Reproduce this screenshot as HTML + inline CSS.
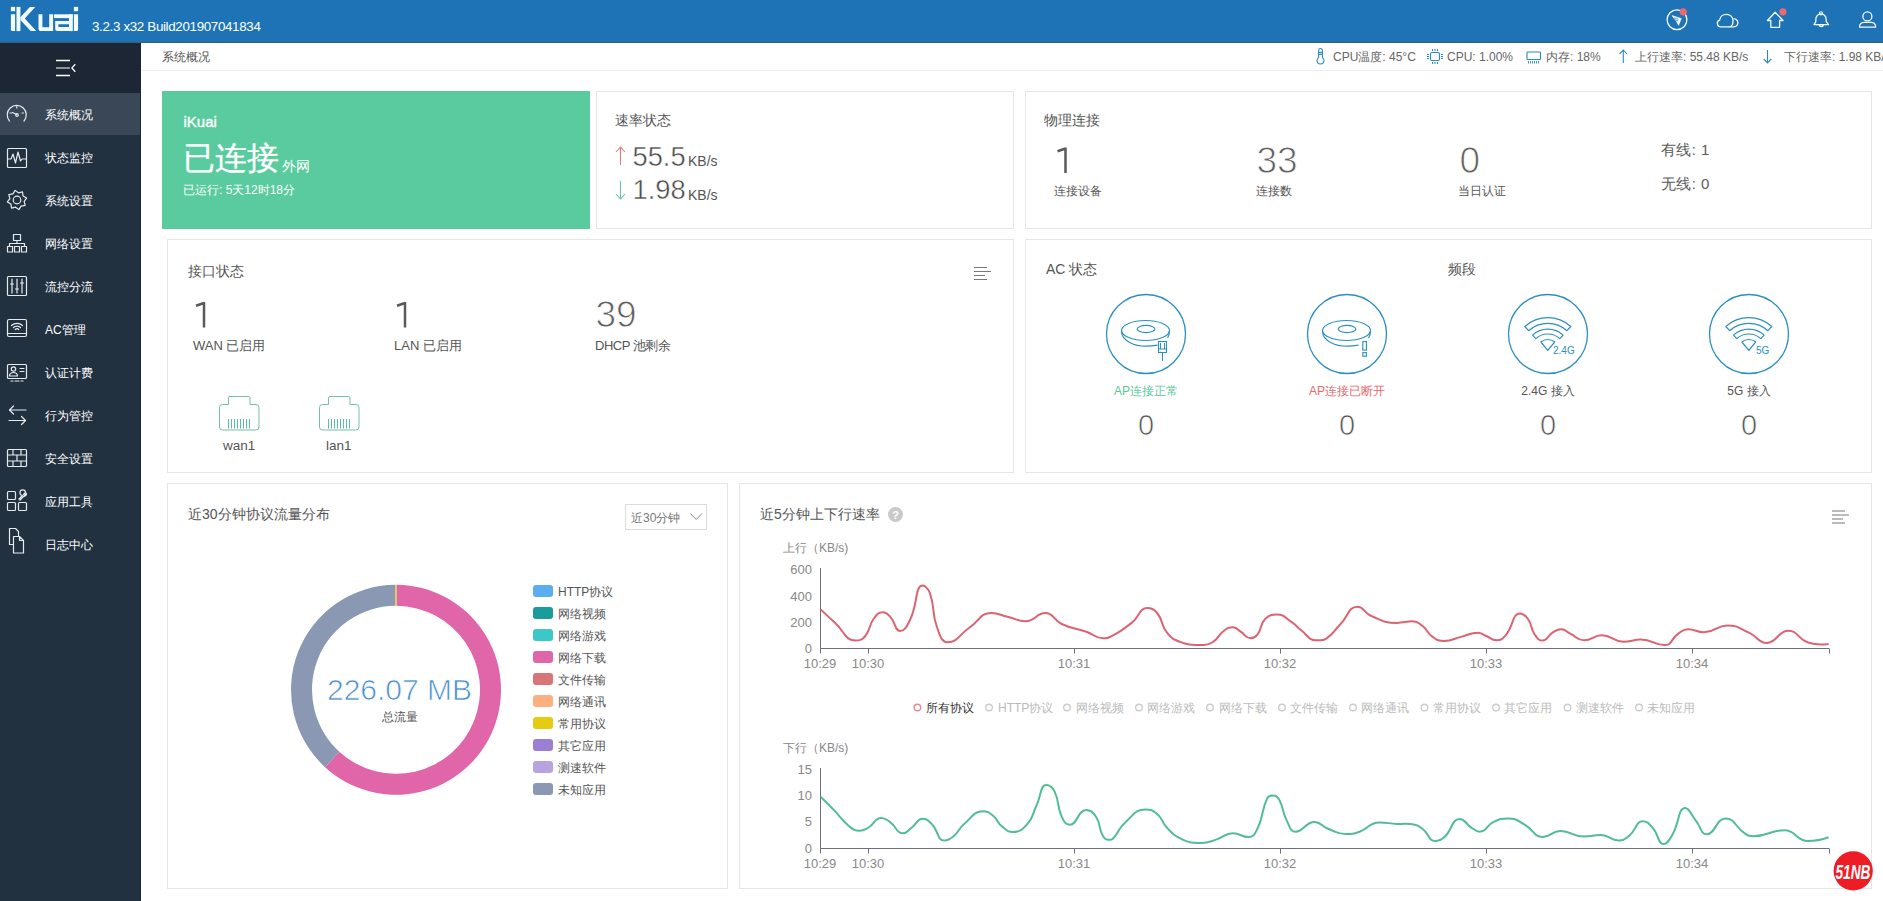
<!DOCTYPE html>
<html><head><meta charset="utf-8"><style>
*{margin:0;padding:0}
html,body{width:1883px;height:901px;overflow:hidden;background:#fff;font-family:"Liberation Sans", sans-serif;}
.t{position:absolute;line-height:1;white-space:nowrap;}
svg{position:absolute;overflow:visible}
</style></head><body>
<div style="position:absolute;left:0px;top:0px;width:1883px;height:41px;background:#1e73b7;"></div>
<div style="position:absolute;left:0px;top:41px;width:1883px;height:2px;background:linear-gradient(#2a6b9e,#2f6389);"></div>
<div style="position:absolute;left:0px;top:43px;width:141px;height:858px;background:#223140;"></div>
<div style="position:absolute;left:0px;top:43px;width:141px;height:50px;background:#1c2634;"></div>
<div style="position:absolute;left:0px;top:93px;width:141px;height:42px;background:#3a4756;"></div>
<div style="position:absolute;left:140px;top:43px;width:1px;height:858px;background:#1c2530;"></div>
<div style="position:absolute;left:141px;top:43px;width:1742px;height:27px;background:#fff;border-bottom:1px solid #eeeeee;"></div>
<svg style="left:0;top:0" width="1" height="1"><g fill="#f2fbff"><rect x="10.9" y="6.9" width="4.2" height="4.3"/><path d="M10.9,14.3 H15.1 V31.1 H12.6 Q10.9,31.1 10.9,29.4 Z"/><rect x="16.5" y="6.9" width="3.9" height="24.2"/><path d="M20.4,17.2 L29.8,6.9 H35.2 L24.8,18.5 L36.2,31.1 H30.7 L20.4,19.9 Z"/><path d="M38.5,14.3 H42.4 V27.3 H49.2 V14.3 H53.1 V31.1 H40.6 Q38.5,31.1 38.5,29 Z"/><rect x="54" y="14.3" width="18.8" height="3.8"/><rect x="69" y="14.3" width="3.8" height="16.8"/><path fill-rule="evenodd" d="M55.2,21 H69.2 V31.1 H57.3 Q55.2,31.1 55.2,29 Z M58.4,24.2 V27.1 H69 V24.2 Z"/><rect x="73.9" y="6.9" width="4.2" height="4.3"/><path d="M73.9,14.3 H78.1 V29.4 Q78.1,31.1 76.4,31.1 H73.9 Z"/></g></svg>
<div class="t" style="left:92.0px;top:20.2px;font-size:13.4px;color:#fff;letter-spacing:-0.35px;">3.2.3 x32 Build201907041834</div>
<div class="t" style="left:162.0px;top:50.8px;font-size:12px;color:#555;">系统概况</div>
<div style="position:absolute;left:162px;top:91px;width:428px;height:138px;background:#5acb9e;"></div>
<div style="position:absolute;left:596px;top:91px;width:418px;height:138px;box-sizing:border-box;border:1px solid #e6e6e6;background:#fff;"></div>
<div style="position:absolute;left:1025px;top:91px;width:847px;height:138px;box-sizing:border-box;border:1px solid #e6e6e6;background:#fff;"></div>
<div style="position:absolute;left:167px;top:239px;width:847px;height:234px;box-sizing:border-box;border:1px solid #e6e6e6;background:#fff;"></div>
<div style="position:absolute;left:1025px;top:239px;width:847px;height:234px;box-sizing:border-box;border:1px solid #e6e6e6;background:#fff;"></div>
<div style="position:absolute;left:167px;top:483px;width:561px;height:406px;box-sizing:border-box;border:1px solid #e6e6e6;background:#fff;"></div>
<div style="position:absolute;left:739px;top:483px;width:1133px;height:406px;box-sizing:border-box;border:1px solid #e6e6e6;background:#fff;"></div>
<div class="t" style="left:183.5px;top:114.3px;font-size:15px;color:#fff;-webkit-text-stroke:0.35px #fff;">iKuai</div>
<div class="t" style="left:183.0px;top:142.4px;font-size:32px;color:#fff;-webkit-text-stroke:0.3px #fff;">已连接</div>
<div class="t" style="left:282.0px;top:159.1px;font-size:14px;color:#fff;">外网</div>
<div class="t" style="left:183.0px;top:183.8px;font-size:12px;color:#fff;">已运行: 5天12时18分</div>
<div class="t" style="left:615.0px;top:113.1px;font-size:14px;color:#555;">速率状态</div>
<div class="t" style="left:632.5px;top:142.9px;font-size:27.3px;color:#4a4a4a;-webkit-text-stroke:0.45px #fff;">55.5</div>
<div class="t" style="left:688.0px;top:154.1px;font-size:14px;color:#555;">KB/s</div>
<div class="t" style="left:632.5px;top:176.4px;font-size:27.3px;color:#4a4a4a;-webkit-text-stroke:0.45px #fff;">1.98</div>
<div class="t" style="left:688.0px;top:187.6px;font-size:14px;color:#555;">KB/s</div>
<svg style="left:0;top:0" width="1" height="1"><path d="M620.5,147 V165 M616,152 L620.5,147 L625,152" stroke="#e27c86" stroke-width="1.1" fill="none"/><path d="M620.5,181 V199 M616,194 L620.5,199 L625,194" stroke="#6cc4a6" stroke-width="1.1" fill="none"/></svg>
<div class="t" style="left:1044.0px;top:113.1px;font-size:14px;color:#555;">物理连接</div>
<svg style="left:0;top:0" width="1" height="1"><path d="M1057.5,151.3 L1065.5,148.5 M1065.5,147.5 V173.0" stroke="#5a5a5a" stroke-width="2.5" fill="none"/></svg>
<div class="t" style="left:1054.0px;top:184.8px;font-size:12px;color:#555;">连接设备</div>
<div class="t" style="left:1256.5px;top:141.7px;font-size:37px;color:#606060;-webkit-text-stroke:0.9px #fff;">33</div>
<div class="t" style="left:1256.0px;top:184.8px;font-size:12px;color:#555;">连接数</div>
<div class="t" style="left:1459.5px;top:141.7px;font-size:37px;color:#606060;-webkit-text-stroke:0.9px #fff;">0</div>
<div class="t" style="left:1458.0px;top:184.8px;font-size:12px;color:#555;">当日认证</div>
<div class="t" style="left:1661.0px;top:142.3px;font-size:15px;color:#5a5a5a;letter-spacing:0.4px;">有线: 1</div>
<div class="t" style="left:1661.0px;top:176.3px;font-size:15px;color:#5a5a5a;letter-spacing:0.4px;">无线: 0</div>
<div class="t" style="left:188.0px;top:263.9px;font-size:14px;color:#555;">接口状态</div>
<svg style="left:0;top:0" width="1" height="1"><path d="M196.0,305.8 L204.0,303.0 M204.0,302.0 V327.5" stroke="#5a5a5a" stroke-width="2.5" fill="none"/></svg>
<div class="t" style="left:193.0px;top:339.0px;font-size:13px;color:#555;">WAN 已启用</div>
<svg style="left:0;top:0" width="1" height="1"><path d="M397.0,305.8 L405.0,303.0 M405.0,302.0 V327.5" stroke="#5a5a5a" stroke-width="2.5" fill="none"/></svg>
<div class="t" style="left:394.0px;top:339.0px;font-size:13px;color:#555;">LAN 已启用</div>
<div class="t" style="left:595.5px;top:296.2px;font-size:37px;color:#606060;-webkit-text-stroke:0.9px #fff;">39</div>
<div class="t" style="left:595.0px;top:339.0px;font-size:13px;color:#555;letter-spacing:-0.5px;">DHCP 池剩余</div>
<svg style="left:0;top:0" width="1" height="1"><path d="M974,267.5 h13 M974,271.5 h17 M974,275.5 h11 M974,279.5 h13" stroke="#777" stroke-width="1" fill="none"/></svg>
<svg style="left:0;top:0" width="1" height="1"><path d="M229.5,396.5 h19 a1.5,1.5 0 0 1 1.5,1.5 v6.5 h6 a3,3 0 0 1 3,3 v19.5 a3,3 0 0 1 -3,3 h-33.5 a3,3 0 0 1 -3,-3 v-19.5 a3,3 0 0 1 3,-3 h6 v-6.5 a1.5,1.5 0 0 1 1.5,-1.5 z" stroke="#74bfae" stroke-width="1" fill="none"/><path d="M228.5,419 v9.5 M231.5,419 v9.5 M234.5,419 v9.5 M237.5,419 v9.5 M240.5,419 v9.5 M243.5,419 v9.5 M246.5,419 v9.5 M249.5,419 v9.5" stroke="#5cbfa3" stroke-width="1" fill="none"/></svg>
<svg style="left:0;top:0" width="1" height="1"><path d="M329.5,396.5 h19 a1.5,1.5 0 0 1 1.5,1.5 v6.5 h6 a3,3 0 0 1 3,3 v19.5 a3,3 0 0 1 -3,3 h-33.5 a3,3 0 0 1 -3,-3 v-19.5 a3,3 0 0 1 3,-3 h6 v-6.5 a1.5,1.5 0 0 1 1.5,-1.5 z" stroke="#74bfae" stroke-width="1" fill="none"/><path d="M328.5,419 v9.5 M331.5,419 v9.5 M334.5,419 v9.5 M337.5,419 v9.5 M340.5,419 v9.5 M343.5,419 v9.5 M346.5,419 v9.5 M349.5,419 v9.5" stroke="#5cbfa3" stroke-width="1" fill="none"/></svg>
<div class="t" style="left:223.0px;top:439.1px;font-size:13.5px;color:#555;">wan1</div>
<div class="t" style="left:326.0px;top:439.1px;font-size:13.5px;color:#555;">lan1</div>
<div class="t" style="left:1046.0px;top:262.4px;font-size:14px;color:#555;">AC 状态</div>
<div class="t" style="left:1447.5px;top:262.4px;font-size:14px;color:#555;">频段</div>
<svg style="left:0;top:0" width="1" height="1"><circle cx="1146" cy="334" r="39.5" stroke="#2b8fc1" stroke-width="1.3" fill="none"/><circle cx="1347" cy="334" r="39.5" stroke="#2b8fc1" stroke-width="1.3" fill="none"/><circle cx="1548" cy="334" r="39.5" stroke="#2b8fc1" stroke-width="1.3" fill="none"/><circle cx="1749" cy="334" r="39.5" stroke="#2b8fc1" stroke-width="1.3" fill="none"/><g transform="translate(1100,288)" stroke="#2b8fc1" stroke-width="1.2" fill="none"><ellipse cx="45.5" cy="42.5" rx="24" ry="10"/><ellipse cx="46" cy="41" rx="8.8" ry="3.6"/><path d="M21.6,43.5 C21.6,53 35,58.2 46,58.2 C50,58.2 54,57.8 57.5,57.2"/><path d="M69.5,43 C69.5,46 68.5,48.5 67.5,50"/><rect x="58.5" y="53.5" width="8" height="11" stroke-width="1.1"/><path d="M58.5,61 h8 M62.5,64.5 v8.5 M60.5,55 v6 M64.5,55 v6" stroke-width="1"/></g><g transform="translate(1301,288)" stroke="#2b8fc1" stroke-width="1.2" fill="none"><ellipse cx="45.5" cy="42.5" rx="24" ry="10"/><ellipse cx="46" cy="41" rx="8.8" ry="3.6"/><path d="M21.6,43.5 C21.6,53 35,58.2 46,58.2 C50,58.2 54,57.8 57.5,57.2"/><path d="M69.5,43 C69.5,46 68.5,48.5 67.5,50"/><rect x="61.8" y="53.6" width="3.6" height="8.5" stroke-width="1.1"/><rect x="61.8" y="64.6" width="3.6" height="3.6" stroke-width="1.1"/></g><path d="M1524.8,326.5 A34.3,34.3 0 0 1 1570.8,326.5 L1566.9,330.7 A28.6,28.6 0 0 0 1528.7,330.7 Z M1532.5,335.1 A22.8,22.8 0 0 1 1563.1,335.1 L1559.8,338.6 A18.0,18.0 0 0 0 1535.8,338.6 Z M1547.8,350.3 L1540.9,342.0 A10.8,10.8 0 0 1 1554.7,342.0 Z" stroke="#2b8fc1" stroke-width="1.2" fill="none" stroke-linejoin="round"/><text x="1553" y="353.5" font-size="10" fill="#2b8fc1" font-family="Liberation Sans">2.4G</text><path d="M1725.8,326.5 A34.3,34.3 0 0 1 1771.8,326.5 L1767.9,330.7 A28.6,28.6 0 0 0 1729.7,330.7 Z M1733.5,335.1 A22.8,22.8 0 0 1 1764.1,335.1 L1760.8,338.6 A18.0,18.0 0 0 0 1736.8,338.6 Z M1748.8,350.3 L1741.9,342.0 A10.8,10.8 0 0 1 1755.7,342.0 Z" stroke="#2b8fc1" stroke-width="1.2" fill="none" stroke-linejoin="round"/><text x="1756" y="353.5" font-size="10" fill="#2b8fc1" font-family="Liberation Sans">5G</text></svg>
<div class="t" style="left:1146.0px;width:0;display:flex;justify-content:center;top:384.8px;font-size:12px;color:#5ac99c;">AP连接正常</div>
<div class="t" style="left:1347.0px;width:0;display:flex;justify-content:center;top:384.8px;font-size:12px;color:#e8686c;">AP连接已断开</div>
<div class="t" style="left:1548.0px;width:0;display:flex;justify-content:center;top:384.8px;font-size:12px;color:#555;">2.4G 接入</div>
<div class="t" style="left:1749.0px;width:0;display:flex;justify-content:center;top:384.8px;font-size:12px;color:#555;">5G 接入</div>
<div class="t" style="left:1146.0px;width:0;display:flex;justify-content:center;top:411.0px;font-size:29px;color:#555;-webkit-text-stroke:0.7px #fff;">0</div>
<div class="t" style="left:1347.0px;width:0;display:flex;justify-content:center;top:411.0px;font-size:29px;color:#555;-webkit-text-stroke:0.7px #fff;">0</div>
<div class="t" style="left:1548.0px;width:0;display:flex;justify-content:center;top:411.0px;font-size:29px;color:#555;-webkit-text-stroke:0.7px #fff;">0</div>
<div class="t" style="left:1749.0px;width:0;display:flex;justify-content:center;top:411.0px;font-size:29px;color:#555;-webkit-text-stroke:0.7px #fff;">0</div>
<div class="t" style="left:188.0px;top:507.1px;font-size:14px;color:#555;">近30分钟协议流量分布</div>
<div style="position:absolute;left:625px;top:504px;width:82px;height:26px;box-sizing:border-box;border:1px solid #dcdcdc;background:#fff;"></div>
<div class="t" style="left:631.0px;top:512.3px;font-size:12px;color:#777;">近30分钟</div>
<svg style="left:0;top:0" width="1" height="1"><path d="M690.5,513.5 L696.2,519.5 L702,513.5" stroke="#888" stroke-width="1" fill="none"/></svg>
<svg style="left:0;top:0" width="1" height="1"><path d="M396.73,584.80 A105,105 0 1 1 325.06,767.21 L339.25,751.73 A84,84 0 1 0 396.59,605.80 Z" fill="#e066a9"/><path d="M325.06,767.21 A105,105 0 0 1 395.27,584.80 L395.41,605.80 A84,84 0 0 0 339.25,751.73 Z" fill="#8b98b3"/><path d="M395.27,584.80 A105,105 0 0 1 396.73,584.80 L396.59,605.80 A84,84 0 0 0 395.41,605.80 Z" fill="#d9c43a"/></svg>
<div class="t" style="left:399.5px;width:0;display:flex;justify-content:center;top:675.1px;font-size:30px;color:#4b8fc7;-webkit-text-stroke:0.7px #fff;">226.07 MB</div>
<div class="t" style="left:400.0px;width:0;display:flex;justify-content:center;top:710.8px;font-size:12px;color:#555;">总流量</div>
<div style="position:absolute;left:533px;top:585px;width:20px;height:12px;background:#5daef0;border-radius:3px;"></div>
<div class="t" style="left:558.0px;top:585.8px;font-size:12px;color:#555;">HTTP协议</div>
<div style="position:absolute;left:533px;top:607px;width:20px;height:12px;background:#1a9c9c;border-radius:3px;"></div>
<div class="t" style="left:558.0px;top:607.8px;font-size:12px;color:#555;">网络视频</div>
<div style="position:absolute;left:533px;top:629px;width:20px;height:12px;background:#3cc8c8;border-radius:3px;"></div>
<div class="t" style="left:558.0px;top:629.8px;font-size:12px;color:#555;">网络游戏</div>
<div style="position:absolute;left:533px;top:651px;width:20px;height:12px;background:#e066a9;border-radius:3px;"></div>
<div class="t" style="left:558.0px;top:651.8px;font-size:12px;color:#555;">网络下载</div>
<div style="position:absolute;left:533px;top:673px;width:20px;height:12px;background:#d97479;border-radius:3px;"></div>
<div class="t" style="left:558.0px;top:673.8px;font-size:12px;color:#555;">文件传输</div>
<div style="position:absolute;left:533px;top:695px;width:20px;height:12px;background:#fcb07f;border-radius:3px;"></div>
<div class="t" style="left:558.0px;top:695.8px;font-size:12px;color:#555;">网络通讯</div>
<div style="position:absolute;left:533px;top:717px;width:20px;height:12px;background:#e5cb12;border-radius:3px;"></div>
<div class="t" style="left:558.0px;top:717.8px;font-size:12px;color:#555;">常用协议</div>
<div style="position:absolute;left:533px;top:739px;width:20px;height:12px;background:#9b7fd4;border-radius:3px;"></div>
<div class="t" style="left:558.0px;top:739.8px;font-size:12px;color:#555;">其它应用</div>
<div style="position:absolute;left:533px;top:761px;width:20px;height:12px;background:#b9a2e0;border-radius:3px;"></div>
<div class="t" style="left:558.0px;top:761.8px;font-size:12px;color:#555;">测速软件</div>
<div style="position:absolute;left:533px;top:783px;width:20px;height:12px;background:#8b98b3;border-radius:3px;"></div>
<div class="t" style="left:558.0px;top:783.8px;font-size:12px;color:#555;">未知应用</div>
<div class="t" style="left:760.0px;top:507.1px;font-size:14px;color:#555;">近5分钟上下行速率</div>
<svg style="left:0;top:0" width="1" height="1"><circle cx="895.5" cy="514.5" r="7.5" fill="#c9c9c9"/><text x="895.5" y="519" font-size="11" font-weight="bold" fill="#fff" text-anchor="middle" font-family="Liberation Sans">?</text></svg>
<svg style="left:0;top:0" width="1" height="1"><path d="M1832,511.0 h13 M1832,515.0 h17 M1832,519.0 h11 M1832,523.0 h13" stroke="#777" stroke-width="1" fill="none"/></svg>
<svg style="left:0;top:0" width="1" height="1"><g stroke="#6e7079" stroke-width="1" fill="none"><path d="M820.5,568 V648.5 H1829"/><path d="M820.5,648.5 v5"/><path d="M868.5,648.5 v5"/><path d="M1074.5,648.5 v5"/><path d="M1280.5,648.5 v5"/><path d="M1486.5,648.5 v5"/><path d="M1692.5,648.5 v5"/><path d="M1829.5,648.5 v5"/></g></svg>
<div class="t" style="right:1071.0px;top:563.3px;font-size:13px;color:#888;">600</div>
<div class="t" style="right:1071.0px;top:590.3px;font-size:13px;color:#888;">400</div>
<div class="t" style="right:1071.0px;top:616.3px;font-size:13px;color:#888;">200</div>
<div class="t" style="right:1071.0px;top:642.3px;font-size:13px;color:#888;">0</div>
<div class="t" style="left:820.0px;width:0;display:flex;justify-content:center;top:656.5px;font-size:13px;color:#888;">10:29</div>
<div class="t" style="left:868.0px;width:0;display:flex;justify-content:center;top:656.5px;font-size:13px;color:#888;">10:30</div>
<div class="t" style="left:1074.0px;width:0;display:flex;justify-content:center;top:656.5px;font-size:13px;color:#888;">10:31</div>
<div class="t" style="left:1280.0px;width:0;display:flex;justify-content:center;top:656.5px;font-size:13px;color:#888;">10:32</div>
<div class="t" style="left:1486.0px;width:0;display:flex;justify-content:center;top:656.5px;font-size:13px;color:#888;">10:33</div>
<div class="t" style="left:1692.0px;width:0;display:flex;justify-content:center;top:656.5px;font-size:13px;color:#888;">10:34</div>
<div class="t" style="left:783.0px;top:541.8px;font-size:12px;color:#888;">上行（KB/s)</div>
<svg style="left:0;top:0" width="1" height="1"><g stroke="#6e7079" stroke-width="1" fill="none"><path d="M820.5,768 V848.5 H1829"/><path d="M820.5,848.5 v5"/><path d="M868.5,848.5 v5"/><path d="M1074.5,848.5 v5"/><path d="M1280.5,848.5 v5"/><path d="M1486.5,848.5 v5"/><path d="M1692.5,848.5 v5"/><path d="M1829.5,848.5 v5"/></g></svg>
<div class="t" style="right:1071.0px;top:763.3px;font-size:13px;color:#888;">15</div>
<div class="t" style="right:1071.0px;top:789.3px;font-size:13px;color:#888;">10</div>
<div class="t" style="right:1071.0px;top:815.3px;font-size:13px;color:#888;">5</div>
<div class="t" style="right:1071.0px;top:842.3px;font-size:13px;color:#888;">0</div>
<div class="t" style="left:820.0px;width:0;display:flex;justify-content:center;top:856.5px;font-size:13px;color:#888;">10:29</div>
<div class="t" style="left:868.0px;width:0;display:flex;justify-content:center;top:856.5px;font-size:13px;color:#888;">10:30</div>
<div class="t" style="left:1074.0px;width:0;display:flex;justify-content:center;top:856.5px;font-size:13px;color:#888;">10:31</div>
<div class="t" style="left:1280.0px;width:0;display:flex;justify-content:center;top:856.5px;font-size:13px;color:#888;">10:32</div>
<div class="t" style="left:1486.0px;width:0;display:flex;justify-content:center;top:856.5px;font-size:13px;color:#888;">10:33</div>
<div class="t" style="left:1692.0px;width:0;display:flex;justify-content:center;top:856.5px;font-size:13px;color:#888;">10:34</div>
<div class="t" style="left:783.0px;top:741.8px;font-size:12px;color:#888;">下行（KB/s)</div>
<svg style="left:0;top:0" width="1" height="1"><path d="M820.6,609.4 C820.6,609.4 827.3,615.9 834.2,622.0 C844.9,631.4 844.4,640.5 855.8,640.5 C859.8,640.5 861.9,640.1 864.9,636.5 C871.0,629.1 868.1,626.4 873.9,618.5 C877.1,614.2 878.3,612.2 882.9,612.2 C886.4,612.2 887.3,613.6 890.1,616.7 C895.9,623.0 894.7,631.0 900.1,631.0 C904.7,631.0 906.8,626.5 910.0,620.0 C918.0,603.8 914.9,585.6 922.6,585.6 C924.8,585.6 928.2,588.4 929.9,593.2 C935.5,609.3 931.2,611.4 937.1,627.5 C940.2,635.9 941.3,642.3 948.0,642.3 C957.5,642.3 958.8,634.8 969.6,627.5 C980.4,620.2 979.7,613.0 991.3,613.0 C998.7,613.0 999.4,614.8 1007.5,616.7 C1016.6,618.9 1016.8,621.2 1025.6,621.2 C1035.7,621.2 1036.0,613.0 1045.4,613.0 C1054.0,613.0 1052.8,620.0 1061.7,624.0 C1073.6,629.5 1074.5,627.7 1087.0,632.0 C1095.2,634.8 1095.0,638.3 1103.2,638.3 C1106.5,638.3 1107.0,638.6 1110.0,637.0 C1121.2,630.9 1121.4,630.8 1131.6,622.9 C1140.1,616.3 1138.8,608.1 1147.3,608.1 C1151.6,608.1 1153.9,608.9 1157.2,613.0 C1163.8,621.2 1160.3,624.4 1167.0,632.7 C1172.1,639.0 1173.1,639.3 1180.7,642.1 C1189.8,645.4 1190.6,644.9 1200.4,644.9 C1206.3,644.9 1207.3,645.5 1212.2,642.5 C1219.1,638.4 1217.4,635.6 1224.0,630.7 C1227.7,627.9 1228.5,627.2 1232.8,627.2 C1236.9,627.2 1236.8,629.3 1240.7,631.7 C1245.7,634.8 1245.5,638.2 1250.5,638.2 C1253.8,638.2 1255.1,637.6 1257.4,634.7 C1262.5,628.0 1259.5,624.8 1265.2,619.0 C1269.3,614.8 1271.3,614.6 1277.0,614.6 C1285.0,614.6 1285.3,618.1 1292.7,622.9 C1297.1,625.7 1296.4,626.7 1300.6,629.8 C1308.2,635.4 1307.9,640.2 1316.3,640.2 C1320.7,640.2 1322.2,641.2 1326.2,638.6 C1334.0,633.5 1333.1,631.7 1339.9,624.8 C1348.8,615.8 1348.1,606.8 1357.6,606.8 C1363.8,606.8 1363.8,612.9 1371.3,616.0 C1383.4,621.0 1384.0,622.9 1396.9,622.9 C1404.6,622.9 1405.0,621.3 1412.6,621.3 C1417.8,621.3 1418.2,622.6 1422.4,625.8 C1428.1,630.2 1426.5,632.5 1432.3,636.6 C1437.3,640.1 1438.0,641.0 1444.0,641.0 C1452.7,641.0 1452.8,638.8 1461.7,636.6 C1469.8,634.6 1469.9,632.7 1477.9,632.7 C1481.9,632.7 1481.8,634.1 1485.7,635.7 C1491.1,637.9 1491.2,640.2 1496.5,640.2 C1501.0,640.2 1502.2,639.3 1505.4,635.7 C1514.0,625.9 1511.8,613.4 1520.1,613.4 C1523.1,613.4 1525.3,615.2 1528.0,619.0 C1532.7,625.8 1530.1,627.8 1534.8,634.7 C1537.5,638.6 1538.8,640.6 1542.7,640.6 C1547.7,640.6 1547.2,635.9 1552.5,632.7 C1556.5,630.2 1557.0,629.2 1561.4,629.2 C1565.9,629.2 1565.8,631.5 1570.2,633.7 C1577.1,637.0 1576.9,640.2 1584.0,640.2 C1592.6,640.2 1592.9,635.3 1601.7,635.3 C1612.5,635.3 1612.3,641.7 1623.3,641.7 C1632.0,641.7 1632.2,639.6 1641.0,639.6 C1652.8,639.6 1653.8,645.1 1664.5,645.1 C1672.4,645.1 1670.9,638.7 1678.3,633.7 C1682.7,630.7 1683.0,629.2 1688.1,629.2 C1695.7,629.2 1696.1,632.3 1703.8,632.3 C1715.7,632.3 1715.7,625.4 1727.4,625.4 C1738.3,625.4 1738.6,628.1 1749.0,632.7 C1758.3,636.8 1757.8,642.9 1766.7,642.9 C1777.5,642.9 1777.6,630.7 1788.3,630.7 C1798.2,630.7 1797.4,639.0 1808.0,642.5 C1817.5,645.6 1828.6,643.9 1828.6,643.9" stroke="#db6372" stroke-width="2" fill="none"/><path d="M820.6,796.8 C820.6,796.8 827.5,803.5 834.2,810.4 C841.5,817.9 840.6,819.2 848.6,825.7 C853.2,829.4 854.0,830.8 859.5,830.8 C863.9,830.8 864.4,829.9 868.5,827.5 C875.2,823.5 874.5,817.9 881.1,817.9 C885.3,817.9 886.1,819.3 890.1,822.1 C896.9,827.0 896.2,833.3 902.8,833.3 C907.0,833.3 907.5,830.7 911.8,827.5 C917.4,823.4 916.9,818.8 922.6,818.8 C926.9,818.8 928.1,820.3 931.7,823.9 C938.9,831.1 937.0,840.5 944.3,840.5 C947.8,840.5 949.6,839.6 953.3,836.5 C959.6,831.3 957.9,829.2 964.2,823.9 C972.8,816.6 973.4,811.3 983.1,811.3 C987.8,811.3 988.9,812.4 993.1,815.8 C998.4,820.1 996.8,822.2 1002.1,826.6 C1006.7,830.3 1007.6,832.0 1012.9,832.0 C1020.2,832.0 1022.1,829.8 1027.4,823.9 C1033.9,816.7 1032.0,814.9 1036.4,805.8 C1041.4,795.5 1040.1,785.1 1046.3,785.1 C1049.1,785.1 1052.3,786.9 1054.5,791.4 C1060.0,802.7 1056.4,805.1 1061.7,816.7 C1064.0,821.8 1065.6,824.8 1069.8,824.8 C1077.8,824.8 1077.6,810.0 1086.1,810.0 C1090.7,810.0 1092.9,811.9 1096.0,816.7 C1101.5,825.2 1098.0,828.1 1103.2,836.5 C1105.2,839.7 1106.9,839.8 1110.4,839.8 C1112.2,839.8 1112.6,839.2 1113.9,837.6 C1120.2,830.2 1118.5,828.3 1125.7,821.9 C1134.2,814.3 1135.2,809.5 1145.4,809.5 C1150.9,809.5 1152.6,810.1 1157.2,814.0 C1163.4,819.2 1161.1,821.9 1167.0,827.8 C1173.8,834.7 1174.0,835.8 1182.7,839.6 C1191.2,843.3 1192.1,842.9 1201.4,842.9 C1208.8,842.9 1208.9,841.8 1216.1,839.6 C1224.6,837.0 1224.3,833.3 1232.8,833.3 C1240.5,833.3 1241.5,837.0 1248.5,837.0 C1253.8,837.0 1254.8,834.1 1257.4,828.8 C1264.2,814.8 1260.7,812.2 1267.2,798.3 C1268.5,795.5 1270.3,795.4 1273.1,795.4 C1276.2,795.4 1277.4,796.3 1279.0,799.3 C1284.3,809.1 1281.7,810.8 1286.9,820.9 C1290.0,827.0 1290.2,831.7 1295.7,831.7 C1304.0,831.7 1305.0,821.9 1314.4,821.9 C1321.2,821.9 1321.0,826.0 1328.1,828.8 C1336.7,832.1 1336.8,834.1 1345.8,834.1 C1352.6,834.1 1353.0,834.0 1359.6,831.7 C1369.7,828.2 1369.0,822.5 1379.2,822.5 C1387.6,822.5 1388.0,823.4 1396.9,823.9 C1404.7,824.3 1405.0,822.8 1412.6,824.3 C1417.8,825.3 1418.1,825.6 1422.4,828.8 C1429.4,834.0 1428.2,841.0 1435.2,841.0 C1439.0,841.0 1440.6,840.7 1444.0,837.6 C1452.9,829.7 1451.2,819.0 1459.8,819.0 C1465.0,819.0 1465.4,823.9 1471.6,827.8 C1475.4,830.2 1476.0,831.7 1479.8,831.7 C1487.0,831.7 1486.1,825.4 1493.6,821.9 C1500.3,818.8 1501.1,818.4 1508.3,818.4 C1516.8,818.4 1517.2,820.6 1525.0,824.8 C1534.4,829.9 1533.2,837.0 1542.7,837.0 C1550.9,837.0 1551.4,831.1 1560.4,831.1 C1572.1,831.1 1572.1,836.6 1584.0,836.6 C1592.2,836.6 1592.5,835.1 1600.7,835.1 C1610.2,835.1 1610.2,840.6 1619.3,840.6 C1624.5,840.6 1625.0,839.1 1629.2,835.7 C1636.8,829.5 1635.5,821.3 1642.9,821.3 C1647.3,821.3 1648.8,823.5 1652.7,827.8 C1659.2,834.9 1657.7,844.1 1663.6,844.1 C1667.5,844.1 1669.1,840.2 1672.4,834.7 C1679.9,822.2 1677.7,808.1 1685.2,808.1 C1689.5,808.1 1690.7,814.4 1696.0,820.9 C1701.5,827.5 1700.7,834.3 1706.8,834.3 C1715.5,834.3 1716.0,818.4 1725.5,818.4 C1735.1,818.4 1734.8,827.0 1745.1,833.7 C1748.5,835.9 1749.0,836.2 1753.0,836.2 C1768.6,836.2 1769.2,830.3 1784.4,830.3 C1796.7,830.3 1795.8,841.0 1808.0,841.0 C1817.9,841.0 1828.6,837.2 1828.6,837.2" stroke="#52bd95" stroke-width="2" fill="none"/></svg>
<svg style="left:0;top:0" width="1" height="1"><circle cx="917.4" cy="707.5" r="3.3" stroke="#e38d95" stroke-width="1.4" fill="none"/><circle cx="989" cy="707.5" r="3.3" stroke="#ccc" stroke-width="1.4" fill="none"/><circle cx="1067" cy="707.5" r="3.3" stroke="#ccc" stroke-width="1.4" fill="none"/><circle cx="1139" cy="707.5" r="3.3" stroke="#ccc" stroke-width="1.4" fill="none"/><circle cx="1210" cy="707.5" r="3.3" stroke="#ccc" stroke-width="1.4" fill="none"/><circle cx="1282" cy="707.5" r="3.3" stroke="#ccc" stroke-width="1.4" fill="none"/><circle cx="1353" cy="707.5" r="3.3" stroke="#ccc" stroke-width="1.4" fill="none"/><circle cx="1424.5" cy="707.5" r="3.3" stroke="#ccc" stroke-width="1.4" fill="none"/><circle cx="1496" cy="707.5" r="3.3" stroke="#ccc" stroke-width="1.4" fill="none"/><circle cx="1567.5" cy="707.5" r="3.3" stroke="#ccc" stroke-width="1.4" fill="none"/><circle cx="1639" cy="707.5" r="3.3" stroke="#ccc" stroke-width="1.4" fill="none"/></svg>
<div class="t" style="left:925.9px;top:701.8px;font-size:12px;color:#333;">所有协议</div>
<div class="t" style="left:998.0px;top:701.8px;font-size:12px;color:#bbb;">HTTP协议</div>
<div class="t" style="left:1075.5px;top:701.8px;font-size:12px;color:#bbb;">网络视频</div>
<div class="t" style="left:1146.8px;top:701.8px;font-size:12px;color:#bbb;">网络游戏</div>
<div class="t" style="left:1218.8px;top:701.8px;font-size:12px;color:#bbb;">网络下载</div>
<div class="t" style="left:1290.0px;top:701.8px;font-size:12px;color:#bbb;">文件传输</div>
<div class="t" style="left:1361.3px;top:701.8px;font-size:12px;color:#bbb;">网络通讯</div>
<div class="t" style="left:1433.1px;top:701.8px;font-size:12px;color:#bbb;">常用协议</div>
<div class="t" style="left:1504.3px;top:701.8px;font-size:12px;color:#bbb;">其它应用</div>
<div class="t" style="left:1576.2px;top:701.8px;font-size:12px;color:#bbb;">测速软件</div>
<div class="t" style="left:1647.4px;top:701.8px;font-size:12px;color:#bbb;">未知应用</div>
<svg style="left:0;top:0" width="1" height="1"><circle cx="1853.2" cy="870.8" r="19.6" fill="#ee1c25"/></svg>
<svg style="left:0;top:0" width="1" height="1"><text x="1835.5" y="878.5" style="font:italic bold 21px Liberation Sans;" fill="#fff" textLength="35" lengthAdjust="spacingAndGlyphs">51NB</text></svg>
<svg style="left:0;top:0" width="1" height="1"><g stroke="#fff" stroke-width="1.3" fill="none"><path d="M56,60.5 h14 M56,75.5 h14 M75.3,64.2 l-3.4,3.7 l3.4,3.8"/><path d="M56,68 h14" stroke="#a8b0b8" stroke-width="1.6"/></g></svg>
<div class="t" style="left:45.0px;top:109.3px;font-size:12px;color:#fff;">系统概况</div>
<div class="t" style="left:45.0px;top:152.3px;font-size:12px;color:#fff;">状态监控</div>
<div class="t" style="left:45.0px;top:195.3px;font-size:12px;color:#fff;">系统设置</div>
<div class="t" style="left:45.0px;top:238.3px;font-size:12px;color:#fff;">网络设置</div>
<div class="t" style="left:45.0px;top:281.3px;font-size:12px;color:#fff;">流控分流</div>
<div class="t" style="left:45.0px;top:324.3px;font-size:12px;color:#fff;">AC管理</div>
<div class="t" style="left:45.0px;top:367.3px;font-size:12px;color:#fff;">认证计费</div>
<div class="t" style="left:45.0px;top:410.3px;font-size:12px;color:#fff;">行为管控</div>
<div class="t" style="left:45.0px;top:453.3px;font-size:12px;color:#fff;">安全设置</div>
<div class="t" style="left:45.0px;top:496.3px;font-size:12px;color:#fff;">应用工具</div>
<div class="t" style="left:45.0px;top:539.3px;font-size:12px;color:#fff;">日志中心</div>
<svg style="left:0;top:0" width="1" height="1"><g stroke="#e6eaee" stroke-width="1.2" fill="none" stroke-linecap="round" stroke-linejoin="round"><path d="M9.5,121 A9.5,9.5 0 1 1 24,121"/><path d="M16.6,114.5 L12.5,112.5"/><circle cx="17" cy="115" r="1.3"/><path d="M10,113 h1.5 M16.8,106.5 v1.5 M23.5,113 h-1.5"/><rect x="7.5" y="148.5" width="19" height="19" rx="1"/><path d="M8,159 h3 l2,-5 l2.5,9 l2.5,-11 l2.5,9 l1.5,-2 h4"/><path d="M26.61,198.09 L24.16,201.42 L25.15,205.44 L21.06,206.07 L18.91,209.61 L15.58,207.16 L11.56,208.15 L10.93,204.06 L7.39,201.91 L9.84,198.58 L8.85,194.56 L12.94,193.93 L15.09,190.39 L18.42,192.84 L22.44,191.85 L23.07,195.94 Z"/><circle cx="17" cy="200" r="3.8"/><rect x="13.5" y="234.5" width="7" height="6"/><path d="M17,240.5 v3 M9.5,246.5 v-3 h15 v3"/><rect x="7.5" y="246.5" width="5" height="5.5"/><rect x="14.5" y="246.5" width="5" height="5.5"/><rect x="21.5" y="246.5" width="5" height="5.5"/><rect x="7.5" y="276.5" width="19" height="19" rx="1"/><path d="M12,279 v14 M17,279 v14 M22,279 v14"/><path d="M10.5,284 h3 M15.5,289 h3 M20.5,283 h3"/><rect x="7.5" y="319.5" width="19" height="17" rx="1.5"/><path d="M7.5,333.5 h19"/><path d="M11.5,325.5 a8,8 0 0 1 11,0 M13.5,327.5 a5,5 0 0 1 7,0 M15.3,329.5 a2.5,2.5 0 0 1 3.4,0"/><rect x="7.5" y="364.5" width="19" height="14" rx="1"/><circle cx="13.5" cy="369" r="2.2"/><path d="M9.5,376 a4,3.5 0 0 1 8,0 z M20,368.5 h4 M20,371.5 h4 M11,381 h2 M15,381 h4 M21,381 h2"/><path d="M26,410 H9.5 M13.5,406 L9.5,410 L13.5,414 M9,420.5 H25.5 M21.5,416.5 L25.5,420.5 L21.5,424.5"/><rect x="7.5" y="449.5" width="19" height="17" rx="1"/><path d="M7.5,455 h19 M7.5,461 h19 M13,449.5 v5.5 M21,449.5 v5.5 M17,455 v6 M13,461 v5.5 M21,461 v5.5"/><rect x="7.5" y="491.5" width="8" height="8" rx="1"/><rect x="7.5" y="502.5" width="8" height="8" rx="1"/><rect x="18.5" y="502.5" width="8" height="8" rx="1"/><path d="M19,499 l3.5,-3.5 a2.8,2.8 0 1 1 3,-3 l-2,2 l1,1 l2,-2 a2.8,2.8 0 0 1 -3,3 l-3.5,3.5 z"/><path d="M9.5,528.5 h6 l3,3 v4 M9.5,528.5 v16 h4"/><path d="M13.5,536.5 h6 l4,4 v12.5 h-10 z M19.5,536.5 v4 h4"/></g></svg>
<svg style="left:0;top:0" width="1" height="1"><g stroke="#f4fbff" stroke-width="1.3" fill="none" stroke-linejoin="round"><circle cx="1677" cy="19.8" r="9.9"/><path d="M1672,15.6 L1681.3,18.6 L1678.6,25.3 L1676.5,21.5 Z" fill="#f4fbff" stroke-width="0.6"/><path d="M1674,18 l4.5,1.2 M1675,20 l3.2,0.9" stroke="#1e73b7" stroke-width="0.7"/><path d="M1720.5,26.8 C1716.8,26.8 1716.2,21.2 1719.6,20.2 C1720.6,12.4 1732.6,12.4 1733,20.6 C1733.2,23.8 1731.5,26.3 1729.5,26.8 Z"/><path d="M1733.6,18.6 C1737.4,18.8 1738.8,22.4 1737.3,25 C1736.7,26.2 1735.6,26.8 1734,26.8 H1729.5"/><path d="M1770.8,27.3 v-6.8 h-3.4 l7.8,-8.2 l7.8,8.2 h-3.4 v6.8 z"/><circle cx="1821" cy="13.3" r="1.6" stroke-width="1.1"/><path d="M1814,24.6 H1828.6 L1826.2,21.6 V19.4 A5.2,5.6 0 0 0 1815.8,19.4 V21.6 Z M1819,24.8 A2.4,2.4 0 0 0 1823.6,24.8"/><circle cx="1867.4" cy="16.4" r="4.5"/><path d="M1859.6,27.2 v-0.6 a4.5,4.3 0 0 1 4.5,-4.3 h7 a4.5,4.3 0 0 1 4.5,4.3 v0.6 z"/></g><circle cx="1683.2" cy="11.8" r="3.6" fill="#f0666e"/><circle cx="1782.9" cy="11.8" r="3.6" fill="#f0666e"/></svg>
<svg style="left:0;top:0" width="1" height="1"><g stroke="#2b8bbd" stroke-width="1.1" fill="none"><path d="M1318.6,57.6 V50.4 a1.9,1.9 0 0 1 3.8,0 V57.6 a3.5,3.5 0 1 1 -3.8,0 z M1319.2,52.4 h2.6 M1319.2,54.4 h2.6"/><rect x="1430.5" y="52.5" width="9" height="8" rx="1.5"/><path d="M1427,54.5 h2 M1427,56.5 h2 M1427,58.5 h2 M1441,54.5 h2 M1441,56.5 h2 M1441,58.5 h2 M1432.5,49 v2 M1435,49 v2 M1437.5,49 v2 M1432.5,62 v2 M1435,62 v2 M1437.5,62 v2"/><rect x="1527" y="52" width="13.5" height="7.5" rx="0.8"/><path d="M1528.5,61 v2.5 M1530.5,61 v2.5 M1532.5,61 v2.5 M1534.5,61 v2.5 M1536.5,61 v2.5 M1538.5,61 v2.5" stroke-width="0.9"/><path d="M1623.3,63 V50 M1619.5,54 L1623.3,50 L1627,54"/><path d="M1767.5,50 V63 M1763.7,59 L1767.5,63 L1771.3,59"/></g></svg>
<div class="t" style="left:1333.0px;top:50.8px;font-size:12px;color:#666;">CPU温度: 45°C</div>
<div class="t" style="left:1447.0px;top:50.8px;font-size:12px;color:#666;">CPU: 1.00%</div>
<div class="t" style="left:1546.0px;top:50.8px;font-size:12px;color:#666;">内存: 18%</div>
<div class="t" style="left:1635.0px;top:50.8px;font-size:12px;color:#666;">上行速率: 55.48 KB/s</div>
<div class="t" style="left:1784.0px;top:50.8px;font-size:12px;color:#666;">下行速率: 1.98 KB/s</div>
</body></html>
